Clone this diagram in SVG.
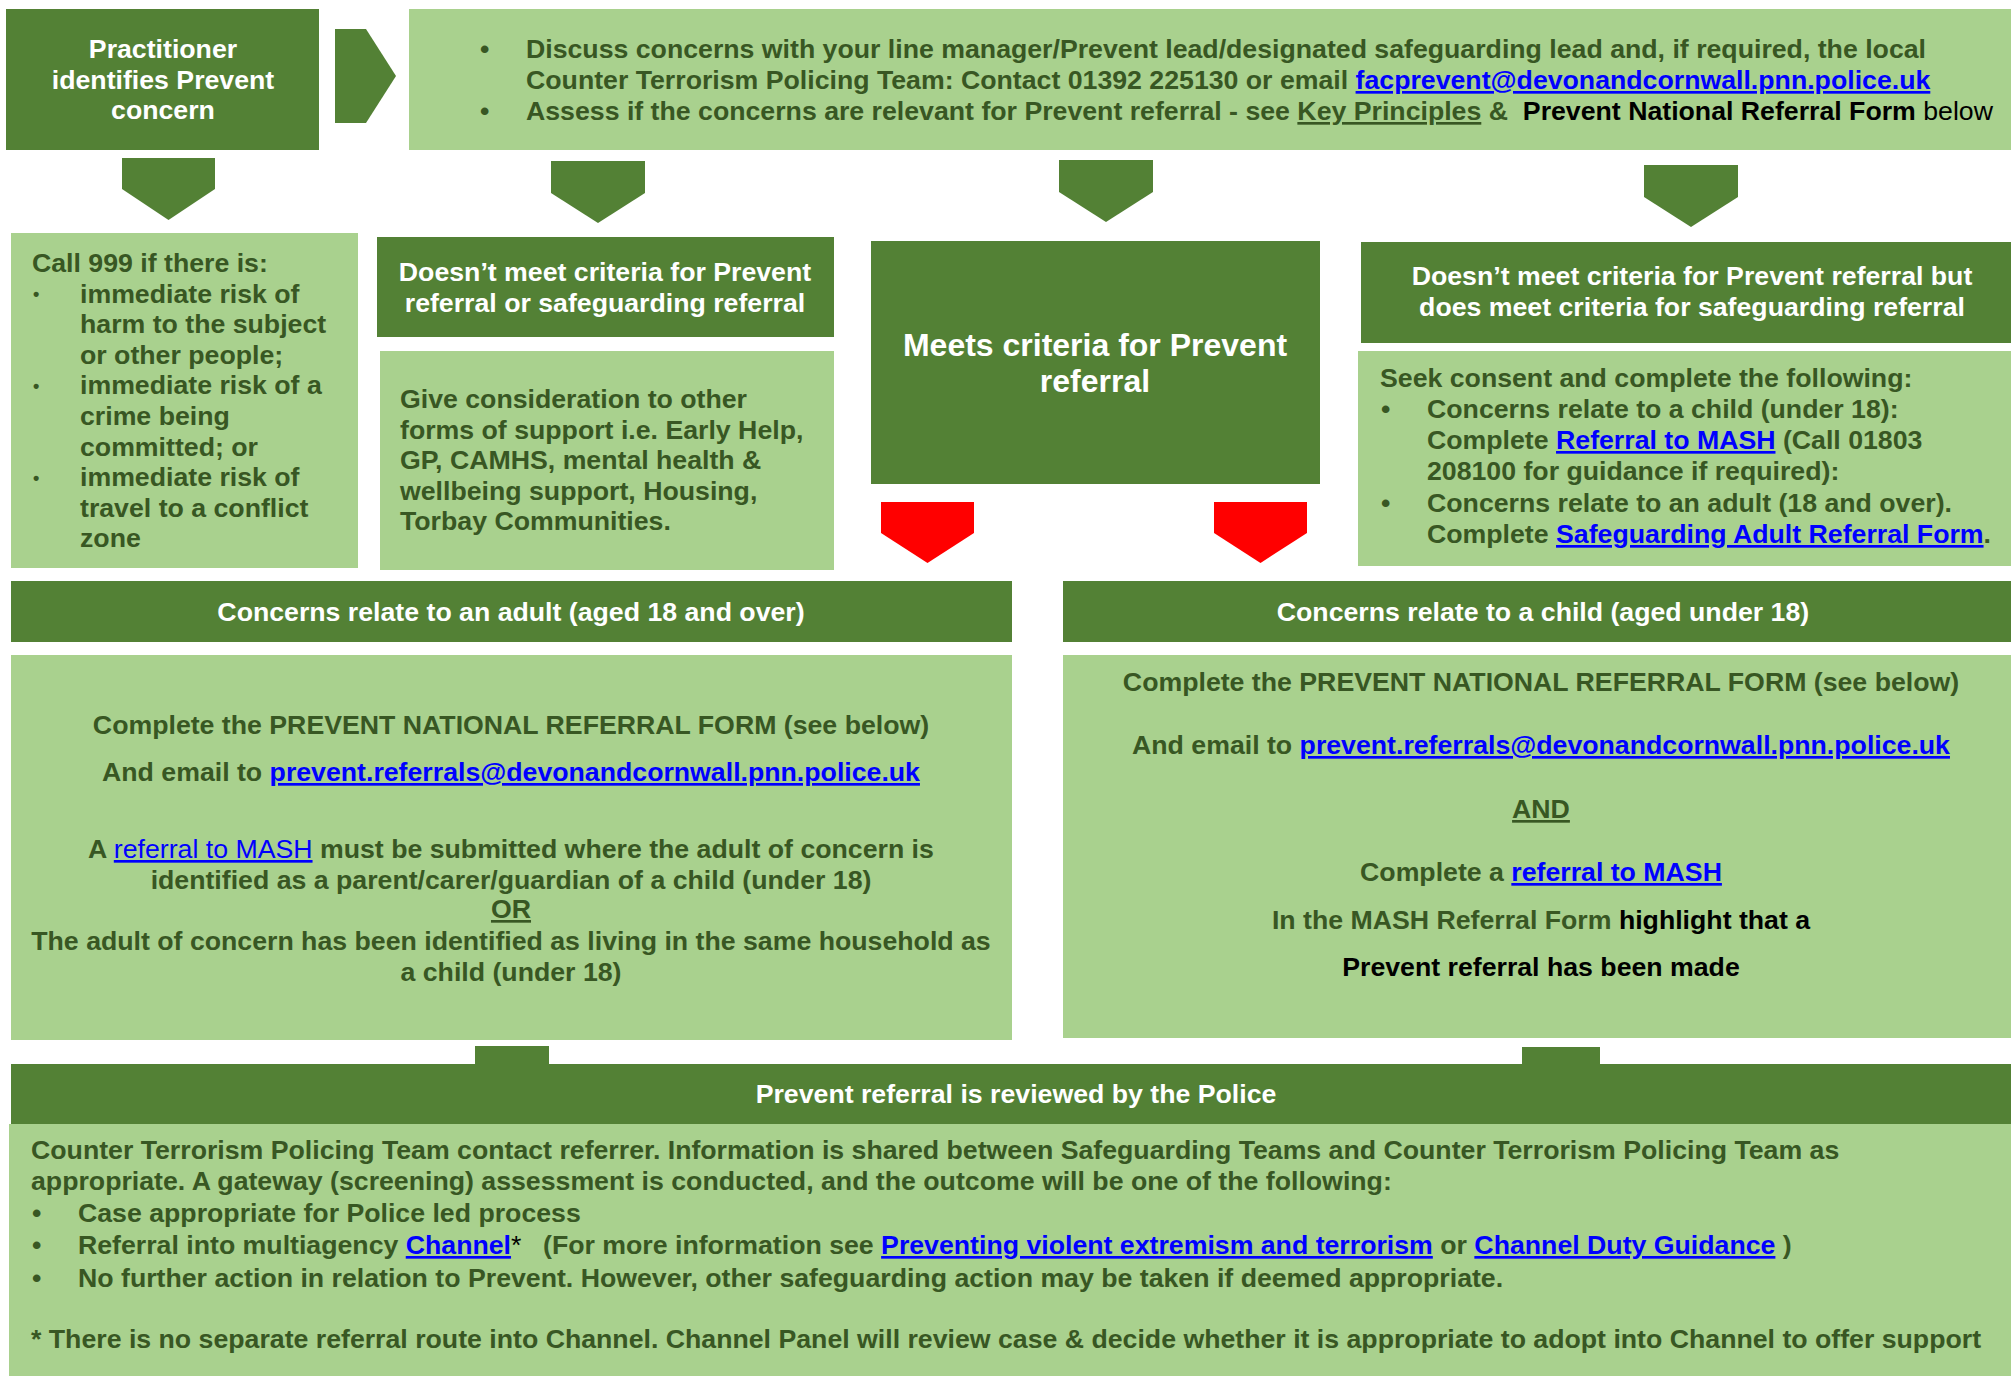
<svg xmlns="http://www.w3.org/2000/svg" width="2011" height="1376" viewBox="0 0 2011 1376">
<style>
.dk{fill:#538135}
.lt{fill:#A9D18E}
.rd{fill:#FF0000}
text{font-family:"Liberation Sans",Arial,sans-serif;font-size:26.7px;font-weight:bold;fill:#385723}
.w{fill:#FFFFFF}
.big{font-size:32px}
.lnk{fill:#0000FF;text-decoration:underline}
.blk{fill:#000000}
.ul{text-decoration:underline}
.n{font-weight:normal}
.sb{font-size:18px}
.c{text-anchor:middle}
</style>
<rect width="2011" height="1376" fill="#FFFFFF"/>

<g id="connectors">
  <polygon class="dk" points="335,29 366,29 396,76 366,123 335,123"/>
  <polygon class="dk" points="122,158 215,158 215,189 168.5,220 122,189"/>
  <polygon class="dk" points="551,161 645,161 645,193 598,223 551,193"/>
  <polygon class="dk" points="1059,160 1153,160 1153,192 1106,222 1059,192"/>
  <polygon class="dk" points="1644,165 1738,165 1738,197 1691,227 1644,197"/>
  <polygon class="rd" points="881,502 974,502 974,533 927.5,563 881,533"/>
  <polygon class="rd" points="1214,502 1307,502 1307,533 1260.5,563 1214,533"/>
  <rect class="dk" x="475" y="1046" width="74" height="20"/>
  <rect class="dk" x="1522" y="1047" width="78" height="19"/>
</g>

<g id="practitioner">
  <rect class="dk" x="6" y="9" width="313" height="141"/>
  <text class="w c" x="163" y="58">Practitioner</text>
  <text class="w c" x="163" y="89">identifies Prevent</text>
  <text class="w c" x="163" y="119">concern</text>
</g>

<g id="discuss">
  <rect class="lt" x="409" y="9" width="1602" height="141"/>
  <text x="480" y="58">•</text>
  <text x="526" y="58">Discuss concerns with your line manager/Prevent lead/designated safeguarding lead and, if required, the local</text>
  <text x="526" y="89">Counter Terrorism Policing Team: Contact 01392 225130 or email <tspan class="lnk">facprevent@devonandcornwall.pnn.police.uk</tspan></text>
  <text x="480" y="120">•</text>
  <text x="526" y="120" xml:space="preserve">Assess if the concerns are relevant for Prevent referral - see <tspan class="ul">Key Principles</tspan> &amp;  <tspan class="blk">Prevent National Referral Form</tspan><tspan class="blk n"> below</tspan></text>
</g>

<g id="call999">
  <rect class="lt" x="11" y="233" width="347" height="335"/>
  <text x="32" y="272">Call 999 if there is:</text>
  <text class="sb" x="33" y="300">•</text>
  <text x="80" y="302.6">immediate risk of</text>
  <text x="80" y="333.2">harm to the subject</text>
  <text x="80" y="363.8">or other people;</text>
  <text class="sb" x="33" y="392">•</text>
  <text x="80" y="394.4">immediate risk of a</text>
  <text x="80" y="425">crime being</text>
  <text x="80" y="455.6">committed; or</text>
  <text class="sb" x="33" y="484">•</text>
  <text x="80" y="486.2">immediate risk of</text>
  <text x="80" y="516.8">travel to a conflict</text>
  <text x="80" y="547.4">zone</text>
</g>

<g id="no-criteria">
  <rect class="dk" x="377" y="237" width="457" height="100"/>
  <text class="w c" x="605" y="281">Doesn’t meet criteria for Prevent</text>
  <text class="w c" x="605" y="312">referral or safeguarding referral</text>
</g>

<g id="other-support">
  <rect class="lt" x="380" y="351" width="454" height="219"/>
  <text x="400" y="408">Give consideration to other</text>
  <text x="400" y="438.5">forms of support i.e. Early Help,</text>
  <text x="400" y="469">GP, CAMHS, mental health &amp;</text>
  <text x="400" y="499.5">wellbeing support, Housing,</text>
  <text x="400" y="530">Torbay Communities.</text>
</g>

<g id="meets-criteria">
  <rect class="dk" x="871" y="241" width="449" height="243"/>
  <text class="w c big" x="1095" y="356">Meets criteria for Prevent</text>
  <text class="w c big" x="1095" y="392">referral</text>
</g>

<g id="safeguarding-only">
  <rect class="dk" x="1361" y="242" width="650" height="101"/>
  <text class="w c" x="1692" y="285">Doesn’t meet criteria for Prevent referral but</text>
  <text class="w c" x="1692" y="316">does meet criteria for safeguarding referral</text>
</g>

<g id="seek-consent">
  <rect class="lt" x="1358" y="351" width="653" height="215"/>
  <text x="1380" y="387">Seek consent and complete the following:</text>
  <text x="1381" y="418">•</text>
  <text x="1427" y="418">Concerns relate to a child (under 18):</text>
  <text x="1427" y="449">Complete <tspan class="lnk">Referral to MASH</tspan> (Call 01803</text>
  <text x="1427" y="480">208100 for guidance if required):</text>
  <text x="1381" y="512">•</text>
  <text x="1427" y="512">Concerns relate to an adult (18 and over).</text>
  <text x="1427" y="543">Complete <tspan class="lnk">Safeguarding Adult Referral Form</tspan>.</text>
</g>

<g id="adult">
  <rect class="dk" x="11" y="581" width="1001" height="61"/>
  <text class="w c" x="511" y="621">Concerns relate to an adult (aged 18 and over)</text>
  <rect class="lt" x="11" y="655" width="1001" height="385"/>
  <text class="c" x="511" y="734">Complete the PREVENT NATIONAL REFERRAL FORM (see below)</text>
  <text class="c" x="511" y="781">And email to <tspan class="lnk">prevent.referrals@devonandcornwall.pnn.police.uk</tspan></text>
  <text class="c" x="511" y="858">A <tspan class="lnk n">referral to MASH</tspan> must be submitted where the adult of concern is</text>
  <text class="c" x="511" y="889">identified as a parent/carer/guardian of a child (under 18)</text>
  <text class="c ul" x="511" y="918">OR</text>
  <text class="c" x="511" y="950">The adult of concern has been identified as living in the same household as</text>
  <text class="c" x="511" y="981">a child (under 18)</text>
</g>

<g id="child">
  <rect class="dk" x="1063" y="581" width="948" height="61"/>
  <text class="w c" x="1543" y="621">Concerns relate to a child (aged under 18)</text>
  <rect class="lt" x="1063" y="655" width="948" height="383"/>
  <text class="c" x="1541" y="691">Complete the PREVENT NATIONAL REFERRAL FORM (see below)</text>
  <text class="c" x="1541" y="754">And email to <tspan class="lnk">prevent.referrals@devonandcornwall.pnn.police.uk</tspan></text>
  <text class="c ul" x="1541" y="818">AND</text>
  <text class="c" x="1541" y="881">Complete a <tspan class="lnk">referral to MASH</tspan></text>
  <text class="c" x="1541" y="929">In the MASH Referral Form <tspan class="blk">highlight that a</tspan></text>
  <text class="c blk" x="1541" y="976">Prevent referral has been made</text>
</g>

<g id="police-review">
  <rect class="dk" x="11" y="1064" width="2000" height="61"/>
  <text class="w c" x="1016" y="1103">Prevent referral is reviewed by the Police</text>
  <rect class="lt" x="9" y="1124" width="2002" height="252"/>
  <text x="31" y="1159">Counter Terrorism Policing Team contact referrer. Information is shared between Safeguarding Teams and Counter Terrorism Policing Team as</text>
  <text x="31" y="1190">appropriate. A gateway (screening) assessment is conducted, and the outcome will be one of the following:</text>
  <text x="32" y="1222">•</text>
  <text x="78" y="1222">Case appropriate for Police led process</text>
  <text x="32" y="1254">•</text>
  <text x="78" y="1254">Referral into multiagency <tspan class="lnk">Channel</tspan><tspan class="blk n">*</tspan></text>
  <text x="543" y="1254">(For more information see <tspan class="lnk">Preventing violent extremism and terrorism</tspan> or <tspan class="lnk">Channel Duty Guidance</tspan> )</text>
  <text x="32" y="1287">•</text>
  <text x="78" y="1287">No further action in relation to Prevent. However, other safeguarding action may be taken if deemed appropriate.</text>
  <text x="31" y="1348">* There is no separate referral route into Channel. Channel Panel will review case &amp; decide whether it is appropriate to adopt into Channel to offer support</text>
</g>
</svg>
